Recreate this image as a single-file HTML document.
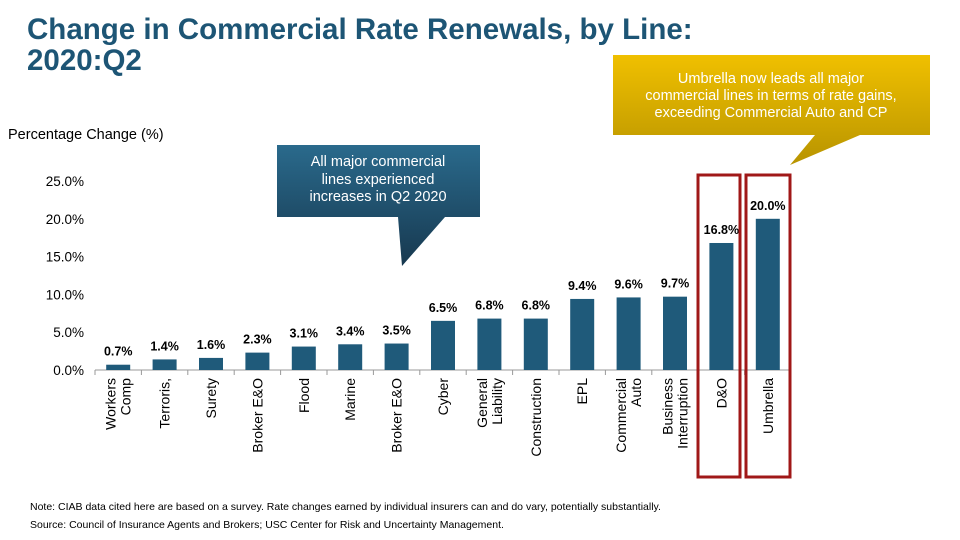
<!DOCTYPE html>
<html><head><meta charset="utf-8"><style>
body{margin:0;width:960px;height:540px;background:#fff;font-family:"Liberation Sans",Arial,sans-serif;overflow:hidden;position:relative}
.t{position:absolute;white-space:nowrap}
</style></head><body>
<div class="t" style="left:27px;top:14px;font-size:29.5px;font-weight:bold;color:#1d5575;line-height:31px">Change in Commercial Rate Renewals, by Line:<br>2020:Q2</div>
<div class="t" style="left:8px;top:127px;font-size:14.5px;color:#000">Percentage Change (%)</div>
<svg id="chart" width="960" height="540" style="position:absolute;left:0;top:0">
<defs>
<linearGradient id="gold" x1="0" y1="0" x2="0" y2="1"><stop offset="0" stop-color="#f0c000"/><stop offset="1" stop-color="#b89400"/></linearGradient>
<linearGradient id="blue" x1="0" y1="0" x2="0" y2="1"><stop offset="0" stop-color="#2a6a8c"/><stop offset="1" stop-color="#17384f"/></linearGradient>
</defs>
<g id="marks"></g>
<path d="M613,55 H930 V135 H860 L790,165 L815,135 H613 Z" fill="url(#gold)"/>
<text x="771" y="83" font-size="14.5" fill="#fff" text-anchor="middle" font-family="Liberation Sans">Umbrella now leads all major</text>
<text x="771" y="100" font-size="14.5" fill="#fff" text-anchor="middle" font-family="Liberation Sans">commercial lines in terms of rate gains,</text>
<text x="771" y="117" font-size="14.5" fill="#fff" text-anchor="middle" font-family="Liberation Sans">exceeding Commercial Auto and CP</text>
<path d="M277,145 H480 V217 H445 L402,266 L398,217 H277 Z" fill="url(#blue)"/>
<text x="378" y="166" font-size="14.5" fill="#fff" text-anchor="middle" font-family="Liberation Sans">All major commercial</text>
<text x="378" y="184" font-size="14.5" fill="#fff" text-anchor="middle" font-family="Liberation Sans">lines experienced</text>
<text x="378" y="201" font-size="14.5" fill="#fff" text-anchor="middle" font-family="Liberation Sans">increases in Q2 2020</text>
<rect x="698" y="175" width="42" height="302" fill="none" stroke="#a01818" stroke-width="3"/>
<rect x="746" y="175" width="44" height="302" fill="none" stroke="#a01818" stroke-width="3"/>
</svg>
<div class="t" style="left:30px;top:501px;font-size:10.5px;color:#000">Note: CIAB data cited here are based on a survey. Rate changes earned by individual insurers can and do vary, potentially substantially.</div>
<div class="t" style="left:30px;top:519px;font-size:10.5px;color:#000">Source: Council of Insurance Agents and Brokers; USC Center for Risk and Uncertainty Management.</div>
<script>
const categories=[["Workers","Comp"],["Terroris,"],["Surety"],["Broker E&O"],["Flood"],["Marine"],["Broker E&O"],["Cyber"],["General","Liability"],["Construction"],["EPL"],["Commercial","Auto"],["Business","Interruption"],["D&O"],["Umbrella"]];
const values=[0.7,1.4,1.6,2.3,3.1,3.4,3.5,6.5,6.8,6.8,9.4,9.6,9.7,16.8,20.0];
const valueLabels=["0.7%","1.4%","1.6%","2.3%","3.1%","3.4%","3.5%","6.5%","6.8%","6.8%","9.4%","9.6%","9.7%","16.8%","20.0%"];
const yTicks=[0,5,10,15,20,25];
const yTickLabels=["0.0%","5.0%","10.0%","15.0%","20.0%","25.0%"];
const NS="http://www.w3.org/2000/svg";
const g=document.getElementById('marks');
const x0=95,band=46.4,y0=370,pxPer=7.56,bw=24;
const y=v=>y0-v*pxPer;
const xc=i=>x0+band*(i+0.5);
function mk(t,a){const e=document.createElementNS(NS,t);for(const k in a)e.setAttribute(k,a[k]);g.appendChild(e);return e;}
yTicks.forEach((v,i)=>{
const t=mk('text',{x:84,y:y(v)+5,'text-anchor':'end','font-size':13.5,'font-family':'Liberation Sans',fill:'#000'});
t.textContent=yTickLabels[i];


});
const ax=mk('line',{x1:x0,y1:y0,x2:x0+band*categories.length,y2:y0,stroke:'#999','stroke-width':1});


for(let i=0;i<=categories.length;i++){const tk=mk('line',{x1:x0+band*i,y1:y0,x2:x0+band*i,y2:y0+5,stroke:'#999'});

}
values.forEach((v,i)=>{
const r=mk('rect',{x:xc(i)-bw/2,y:y(v),width:bw,height:y0-y(v),fill:'#1f5a7a'});


const l=mk('text',{x:xc(i),y:y(v)-9,'text-anchor':'middle','font-size':12.5,'font-weight':'bold','font-family':'Liberation Sans',fill:'#000'});
l.textContent=valueLabels[i];


const lines=categories[i];
lines.forEach((s,j)=>{
const off=(j-(lines.length-1)/2)*15;
const cx=xc(i)+off+5;
const t=mk('text',{x:cx,y:378,'text-anchor':'end','font-size':14,'font-family':'Liberation Sans',fill:'#000',transform:`rotate(-90 ${cx} 378)`});
t.textContent=s;


});
});
</script>
</body></html>
